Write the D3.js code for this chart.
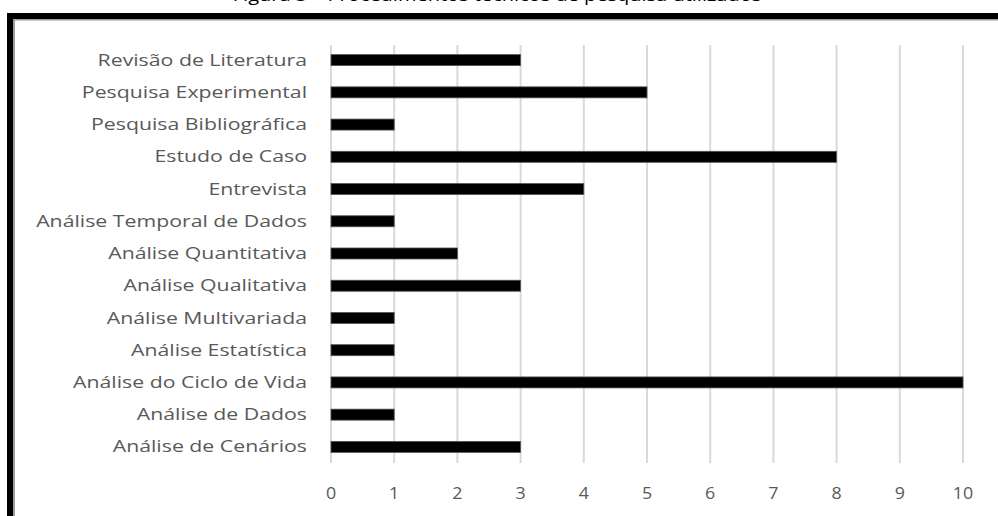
<!DOCTYPE html>
<html>
<head>
<meta charset="utf-8">
<script src="https://cdn.jsdelivr.net/npm/d3@7"></script>
<style>
  body { margin: 0; background: #fff; }
  svg { display: block; }
  .label { font-family: "Open Sans", sans-serif; font-size: 16px; fill: #595959; }
  .tick-label { font-family: "Open Sans", sans-serif; font-size: 16.5px; fill: #595959; }
</style>
</head>
<body>
<div id="chartDiv"></div>
<script>
// categories top to bottom, as they appear in the figure
let categories = [
    'Revisão de Literatura', 'Pesquisa Experimental', 'Pesquisa Bibliográfica',
    'Estudo de Caso', 'Entrevista', 'Análise Temporal de Dados',
    'Análise Quantitativa', 'Análise Qualitativa', 'Análise Multivariada',
    'Análise Estatística', 'Análise do Ciclo de Vida', 'Análise de Dados',
    'Análise de Cenários'
];
let counts = [3, 5, 1, 8, 4, 1, 2, 3, 1, 1, 10, 1, 3];
let ticks = [0, 1, 2, 3, 4, 5, 6, 7, 8, 9, 10];
let title = 'Figura 3 – Procedimentos técnicos de pesquisa utilizados';

let W = 998, H = 516;
let svg = d3.select('#chartDiv').append('svg')
    .attr('width', W).attr('height', H);

// title, cut off by the top edge in the original scan (the scan is stretched sideways)
svg.append('g')
    .attr('transform', 'translate(497,1) scale(1.25,1)')
    .append('text')
    .attr('text-anchor', 'middle')
    .attr('font-family', 'Open Sans, sans-serif')
    .attr('font-size', 16)
    .attr('fill', '#000')
    .text(title);

// frame: thick black top and left edges with a grey shadow inside
svg.append('rect').attr('x', 7).attr('y', 13).attr('width', W - 7).attr('height', 6).attr('fill', '#000');
svg.append('rect').attr('x', 7).attr('y', 13).attr('width', 6).attr('height', H - 13).attr('fill', '#000');
svg.append('rect').attr('x', 13).attr('y', 19).attr('width', W - 13).attr('height', 1.5).attr('fill', '#9a9a9a');
svg.append('rect').attr('x', 13).attr('y', 19).attr('width', 2).attr('height', H - 19).attr('fill', '#9a9a9a');

let x = d3.scaleLinear().domain([0, 10]).range([331, 963]);
let y = d3.scaleBand().domain(categories).range([44, 463]).padding(0);
let barH = 11;

// vertical gridlines
svg.selectAll('.grid')
    .data(ticks)
    .enter()
    .append('line')
    .attr('class', 'grid')
    .attr('x1', d => x(d)).attr('x2', d => x(d))
    .attr('y1', 45).attr('y2', 463)
    .attr('stroke', '#d9d9d9')
    .attr('stroke-width', 2);

// bars
svg.selectAll('.bar')
    .data(categories)
    .enter()
    .append('rect')
    .attr('class', 'bar')
    .attr('x', x(0))
    .attr('y', d => y(d) + y.bandwidth() / 2 - barH / 2)
    .attr('width', (d, i) => x(counts[i]) - x(0))
    .attr('height', barH)
    .attr('fill', '#000')
    .attr('stroke', '#555')
    .attr('stroke-width', 0.8);

// category labels, stretched horizontally like the scan
svg.selectAll('.label')
    .data(categories)
    .enter()
    .append('g')
    .attr('transform', d => 'translate(307,' + (y(d) + y.bandwidth() / 2) + ') scale(1.33,1)')
    .append('text')
    .attr('class', 'label')
    .attr('dy', '0.35em')
    .attr('text-anchor', 'end')
    .text(d => d);

// x tick labels
svg.selectAll('.tick-label')
    .data(ticks)
    .enter()
    .append('g')
    .attr('transform', d => 'translate(' + x(d) + ',493) scale(1.08,1)')
    .append('text')
    .attr('class', 'tick-label')
    .attr('dy', '0.35em')
    .attr('text-anchor', 'middle')
    .text(d => d);
</script>
</body>
</html>
